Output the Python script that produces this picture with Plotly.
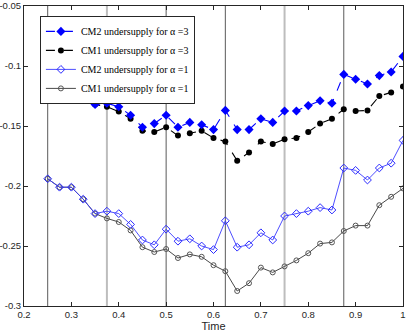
import numpy as np
import plotly.graph_objects as go

# time grid, 0.25 .. 1.0 in steps of 0.025
TIME = [round(0.25 + 0.025 * i, 3) for i in range(31)]

CM2_A3 = [-0.112, -0.118, -0.115, -0.126, -0.132, -0.131, -0.134, -0.141, -0.151, -0.148,
          -0.141, -0.151, -0.147, -0.149, -0.153, -0.137, -0.153, -0.153, -0.144, -0.147,
          -0.1375, -0.1375, -0.133, -0.129, -0.131, -0.107, -0.111, -0.115, -0.108, -0.105,
          -0.092]
CM1_A3 = [-0.112, -0.118, -0.115, -0.126, -0.132, -0.134, -0.138, -0.144, -0.154, -0.155,
          -0.151, -0.158, -0.156, -0.154, -0.160, -0.163, -0.179, -0.172, -0.163, -0.165,
          -0.161, -0.160, -0.155, -0.148, -0.144, -0.136, -0.1375, -0.137, -0.125, -0.122,
          -0.117]
CM2_A1 = [-0.194, -0.201, -0.201, -0.211, -0.223, -0.221, -0.223, -0.232, -0.245, -0.249,
          -0.236, -0.246, -0.244, -0.250, -0.253, -0.229, -0.251, -0.249, -0.239, -0.245,
          -0.225, -0.223, -0.221, -0.218, -0.220, -0.185, -0.187, -0.195, -0.185, -0.181,
          -0.162]
CM1_A1 = [-0.194, -0.201, -0.201, -0.211, -0.223, -0.227, -0.230, -0.237, -0.251, -0.255,
          -0.2525, -0.260, -0.257, -0.259, -0.266, -0.271, -0.2875, -0.281, -0.268, -0.272,
          -0.267, -0.262, -0.256, -0.248, -0.247, -0.2375, -0.233, -0.233, -0.216, -0.209,
          -0.202]

# vertical markers and which ones are drawn light
VLINES = [0.25, 0.375, 0.5, 0.625, 0.75, 0.875]
VLINE_LIGHT = [False, True, False, False, True, False]

X_TICKS = [0.2, 0.3, 0.4, 0.5, 0.6, 0.7, 0.8, 0.9, 1.0]
X_LABELS = ["0.2", "0.3", "0.4", "0.5", "0.6", "0.7", "0.8", "0.9", "1"]
Y_TICKS = [-0.3, -0.25, -0.2, -0.15, -0.1, -0.05]
Y_LABELS = ["-0.3", "-0.25", "-0.2", "-0.15", "-0.1", "-0.05"]

fig = go.Figure()

# added bottom-up so the alpha=3 CM2 curve sits on top; legend reversed
fig.add_trace(go.Scatter(
    x=TIME, y=CM1_A1, mode="lines+markers", name="CM1 undersupply for \u03b1 =1",
    line=dict(color="#333333", width=0.9),
    marker=dict(symbol="circle-open", size=5, color="#555555", line=dict(width=1))))
fig.add_trace(go.Scatter(
    x=TIME, y=CM2_A1, mode="lines+markers", name="CM2 undersupply for \u03b1 =1",
    line=dict(color="#3a3aff", width=0.9),
    marker=dict(symbol="diamond-open", size=6, color="#2a2aff", line=dict(width=1))))
fig.add_trace(go.Scatter(
    x=TIME, y=CM1_A3, mode="lines+markers", name="CM1 undersupply for \u03b1 =3",
    line=dict(color="black", width=1.1, dash="dash"),
    marker=dict(symbol="circle", size=6, color="black")))
fig.add_trace(go.Scatter(
    x=TIME, y=CM2_A3, mode="lines+markers", name="CM2 undersupply for \u03b1 =3",
    line=dict(color="#0000ff", width=1.1, dash="dash"),
    marker=dict(symbol="diamond", size=7, color="#0000ff")))

for xv, light in zip(VLINES, VLINE_LIGHT):
    fig.add_shape(type="line", xref="x", yref="paper", x0=xv, x1=xv, y0=0, y1=1,
                  line=dict(color="#bdbdbd" if light else "#5a5a5a",
                            width=2 if light else 1),
                  layer="below")

axis_common = dict(
    showline=True, linecolor="#262626", linewidth=1, mirror="ticks",
    ticks="inside", ticklen=4, tickcolor="#262626",
    showgrid=False, zeroline=False, automargin=False,
    tickfont=dict(family="Liberation Sans", size=9.5, color="#262626"),
)

fig.update_layout(
    width=407, height=335,
    margin=dict(l=24, r=4, t=6, b=29),
    paper_bgcolor="white", plot_bgcolor="white",
    xaxis=dict(range=[0.2, 1.0], tickvals=X_TICKS, ticktext=X_LABELS,
               title=dict(text="Time", standoff=0,
                          font=dict(family="Liberation Sans", size=11,
                                    color="#262626")),
               **axis_common),
    yaxis=dict(range=[-0.3, -0.05], tickvals=Y_TICKS, ticktext=Y_LABELS,
               ticklabelstandoff=0, **axis_common),
    legend=dict(x=0.042, y=0.967, xanchor="left", yanchor="top",
                traceorder="reversed",
                bgcolor="white", bordercolor="#262626", borderwidth=1,
                font=dict(family="Liberation Serif, serif", size=10, color="black"),
                itemwidth=30, tracegroupgap=0),
    showlegend=True,
)

fig.write_html("out.html", config={"displayModeBar": False},
               post_script="document.body.style.margin='0';")
